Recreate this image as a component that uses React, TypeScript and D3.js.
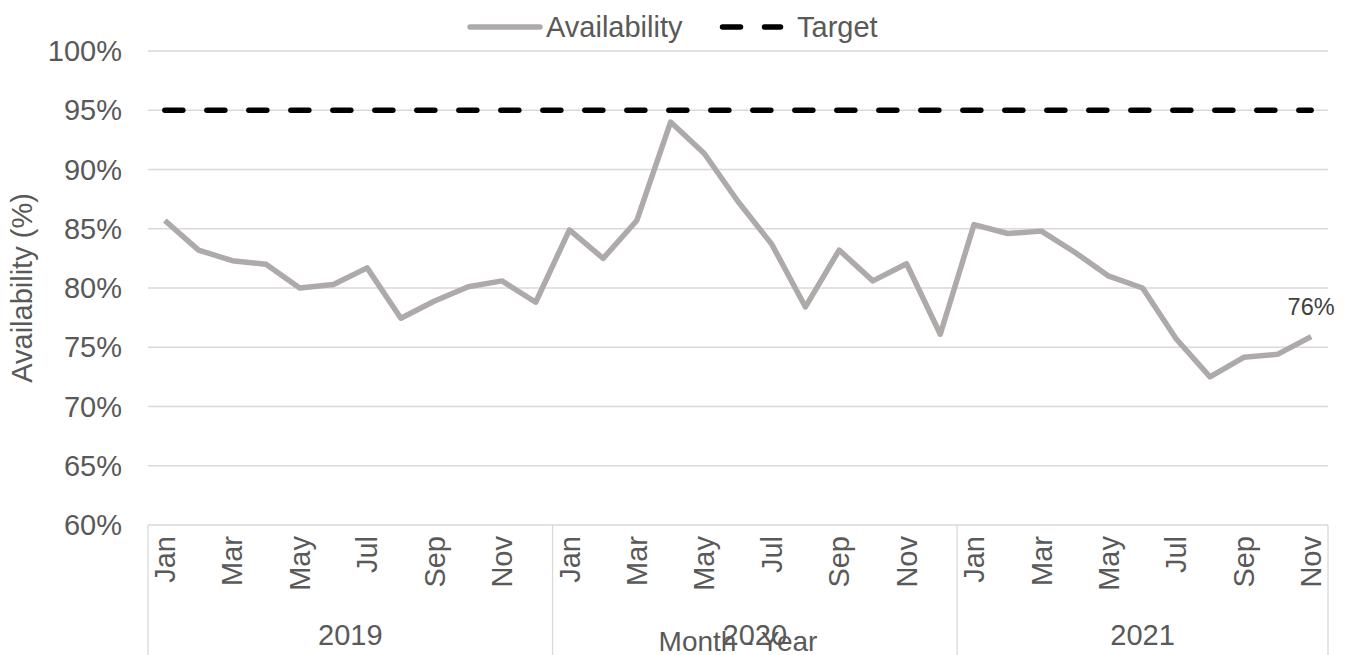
import * as d3 from 'd3';

const years = ['2019', '2020', '2021'];
const monthsPerYear = [12, 12, 11];
const monthNames = ['Jan', 'Feb', 'Mar', 'Apr', 'May', 'Jun', 'Jul', 'Aug', 'Sep', 'Oct', 'Nov', 'Dec'];

// availability (%) per month, Jan 2019 .. Nov 2021
const availability = [
  85.7, 83.2, 82.3, 82.0, 80.0, 80.3, 81.7, 77.45, 78.9, 80.1, 80.6, 78.8,
  84.9, 82.5, 85.7, 94.0, 91.35, 87.3, 83.7, 78.4, 83.2, 80.6, 82.05, 76.1,
  85.35, 84.6, 84.8, 83.0, 81.0, 80.0, 75.7, 72.5, 74.15, 74.4, 75.9,
];
const TARGET = 95;
const yTicks = [60, 65, 70, 75, 80, 85, 90, 95, 100];

const W = 1350;
const H = 655;
const margin = { top: 51, right: 22, bottom: 130, left: 148 };
const font = '"Liberation Sans", Arial, sans-serif';
const fs = 29;
const textColor = '#595959';
const gridColor = '#D9D9D9';
const lineColor = '#AEAAAA';

export default function App() {
  const cats = years.flatMap((y, yi) =>
    monthNames.slice(0, monthsPerYear[yi]).map((m) => ({ key: `${m}-${y}`, month: m, year: y }))
  );
  const x = d3
    .scaleBand<string>()
    .domain(cats.map((c) => c.key))
    .range([margin.left, W - margin.right]);
  const cx = (k: string) => (x(k) ?? 0) + x.bandwidth() / 2;
  const y = d3.scaleLinear().domain([60, 100]).range([H - margin.bottom, margin.top]);

  const availLine = d3
    .line<number>()
    .x((_, i) => cx(cats[i].key))
    .y((d) => y(d));
  const targetLine = d3
    .line<{ key: string }>()
    .x((c) => cx(c.key))
    .y(() => y(TARGET));

  const plotBottom = y(60);
  const plotRight = W - margin.right;

  // year group boundaries
  let start = 0;
  const groups = years.map((yr, i) => {
    const first = cats[start].key;
    const last = cats[start + monthsPerYear[i] - 1].key;
    start += monthsPerYear[i];
    const x0 = x(first) ?? 0;
    const x1 = (x(last) ?? 0) + x.bandwidth();
    return { yr, x0, x1 };
  });

  const lastIdx = availability.length - 1;

  return (
    <svg
      width={W}
      height={H}
      style={{ position: 'absolute', left: 0, top: 0, background: '#fff' }}
      fontFamily={font}
    >
      {/* gridlines */}
      {yTicks.map((t) => (
        <line key={t} x1={margin.left} x2={plotRight} y1={y(t)} y2={y(t)} stroke={gridColor} strokeWidth={1.3} />
      ))}
      {/* y tick labels */}
      {yTicks.map((t) => (
        <text key={`l${t}`} x={122} y={y(t)} dy="0.35em" textAnchor="end" fontSize={fs} fill={textColor}>
          {t}%
        </text>
      ))}
      <text
        transform={`translate(32,${(margin.top + plotBottom) / 2}) rotate(-90)`}
        textAnchor="middle"
        fontSize={fs}
        fill={textColor}
      >
        Availability (%)
      </text>

      {/* category axis frame */}
      {groups.map((g) => (
        <line key={`s${g.yr}`} x1={g.x0} x2={g.x0} y1={plotBottom} y2={H} stroke={gridColor} strokeWidth={1.3} />
      ))}
      <line x1={plotRight} x2={plotRight} y1={plotBottom} y2={H} stroke={gridColor} strokeWidth={1.3} />

      {cats.map((c, i) =>
        i % 2 === 0 && c.month !== 'Dec' ? (
          <text
            key={c.key}
            transform={`translate(${cx(c.key)},${plotBottom + 11}) rotate(-90)`}
            textAnchor="end"
            dy="0.35em"
            fontSize={fs}
            fill={textColor}
          >
            {c.month}
          </text>
        ) : null
      )}
      {groups.map((g) => (
        <text key={`y${g.yr}`} x={(g.x0 + g.x1) / 2} y={645} textAnchor="middle" fontSize={fs} fill={textColor}>
          {g.yr}
        </text>
      ))}
      <text x={738} y={651} textAnchor="middle" fontSize={fs - 1} fill={textColor}>
        Month - Year
      </text>

      {/* series */}
      <path
        d={targetLine(cats) ?? ''}
        fill="none"
        stroke="#000"
        strokeWidth={5.5}
        strokeDasharray="18 24"
        strokeLinecap="round"
      />
      <path
        d={availLine(availability) ?? ''}
        fill="none"
        stroke={lineColor}
        strokeWidth={5.5}
        strokeLinejoin="round"
      />
      <text
        x={cx(cats[lastIdx].key)}
        y={y(availability[lastIdx]) - 22}
        textAnchor="middle"
        fontSize={23.5}
        fill="#404040"
      >
        {Math.round(availability[lastIdx])}%
      </text>

      {/* legend */}
      <line x1={470} x2={540} y1={27} y2={27} stroke={lineColor} strokeWidth={5.5} strokeLinecap="round" />
      <text x={546} y={27} dy="0.35em" fontSize={fs} fill={textColor}>
        Availability
      </text>
      <line
        x1={722.5}
        x2={780.5}
        y1={27}
        y2={27}
        stroke="#000"
        strokeWidth={5.5}
        strokeDasharray="18 24"
        strokeLinecap="round"
      />
      <text x={797} y={27} dy="0.35em" fontSize={fs} fill={textColor}>
        Target
      </text>
    </svg>
  );
}
